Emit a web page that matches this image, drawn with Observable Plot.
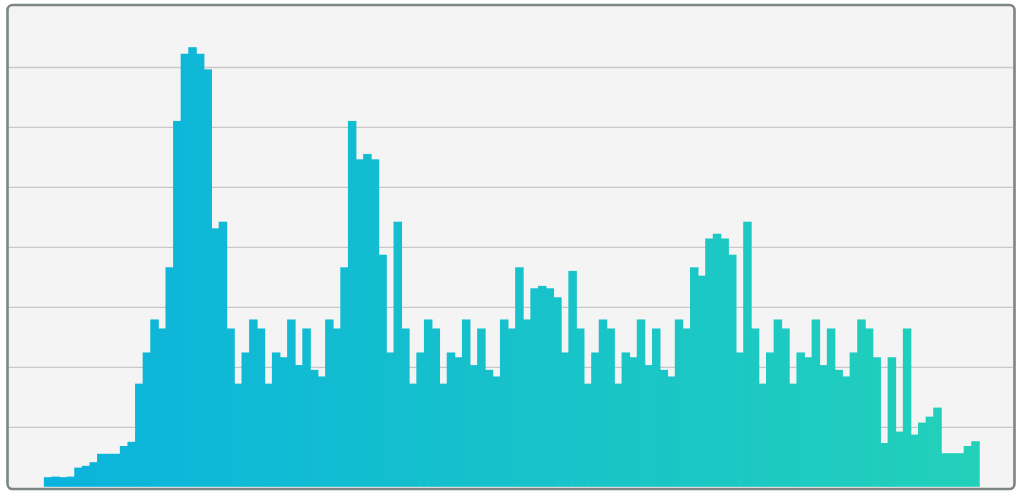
<!DOCTYPE html>
<html>
<head>
<meta charset="utf-8">
<script src="https://cdn.jsdelivr.net/npm/d3@7"></script>
<script src="https://cdn.jsdelivr.net/npm/@observablehq/plot@0.6"></script>
<style>
  html, body { margin: 0; padding: 0; background: #ffffff; }
  #chart svg { display: block; }
</style>
</head>
<body>
<div id="chart"></div>
<script>
// Bin heights (in gridline units), left to right
const binValues = [
  0.16, 0.17, 0.16, 0.17, 0.32, 0.35, 0.41, 0.55, 0.55, 0.55, 0.68, 0.75, 1.72, 2.24, 2.79, 2.64, 3.66, 6.10, 7.22, 7.33, 7.22, 6.96, 4.31, 4.42, 2.64,
  1.72, 2.24, 2.79, 2.64, 1.72, 2.24, 2.16, 2.79, 2.03, 2.64, 1.95, 1.84,
  2.79, 2.64, 3.66, 6.10, 5.46, 5.55, 5.46, 3.87, 2.24, 4.42, 2.64,
  1.72, 2.24, 2.79, 2.64, 1.72, 2.24, 2.16, 2.79, 2.03, 2.64, 1.95, 1.84,
  2.79, 2.64, 3.66, 2.79, 3.31, 3.35, 3.31, 3.16, 2.24, 3.60, 2.64,
  1.72, 2.24, 2.79, 2.64, 1.72, 2.24, 2.16, 2.79, 2.03, 2.64, 1.95, 1.84,
  2.79, 2.64, 3.66, 3.52, 4.14, 4.22, 4.14, 3.87, 2.24, 4.42, 2.64,
  1.72, 2.24, 2.79, 2.64, 1.72, 2.24, 2.16, 2.79, 2.03, 2.64, 1.95, 1.84,
  2.24, 2.79, 2.64, 2.16, 0.73, 2.16, 0.92, 2.64, 0.87, 1.07, 1.17, 1.32, 0.56, 0.56, 0.56, 0.68, 0.76
];
// Horizontal gridline values
const gridValues = [1, 2, 3, 4, 5, 6, 7];
const yDomain = [0, 8];
const gradientColors = ["#0bb3dc", "#22d0ba"];

const bins = binValues.map((v, i) => ({i, v}));

const chart = Plot.plot({
  width: 1024,
  height: 497,
  marginLeft: 44.3,
  marginRight: 44.7,
  marginTop: 7,
  marginBottom: 10.2,
  x: {type: "linear", domain: [0, binValues.length], axis: null},
  y: {domain: yDomain, axis: null},
  color: {type: "linear", domain: [0, binValues.length - 1], range: gradientColors},
  marks: [
    Plot.frame({fill: "#f4f4f4", stroke: "none", rx: 5,
      insetLeft: -37.3, insetRight: -34.7, insetTop: -2.5, insetBottom: -1.7}),
    Plot.ruleY(gridValues, {stroke: "#c8c8c8", strokeWidth: 1.3,
      insetLeft: -36.5, insetRight: -33.5}),
    Plot.rectY(bins, {x1: "i", x2: d => d.i + 1, y: "v", fill: "i",
      insetLeft: -0.45, insetRight: -0.45}),
    Plot.frame({stroke: "#7c8684", strokeWidth: 2.6, rx: 5, fill: "none",
      insetLeft: -37.3, insetRight: -34.7, insetTop: -2.5, insetBottom: -1.7})
  ]
});
document.getElementById("chart").appendChild(chart);
</script>
</body>
</html>
